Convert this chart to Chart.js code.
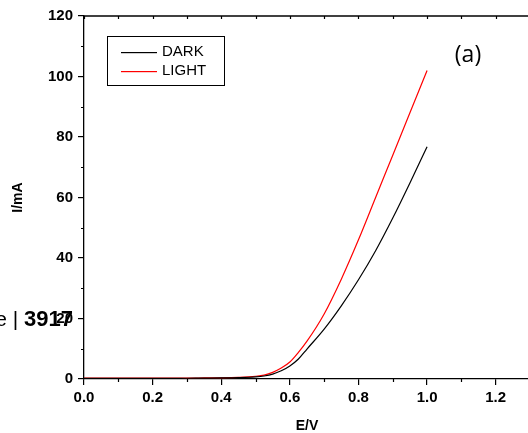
<!DOCTYPE html>
<html>
<head>
<meta charset="utf-8">
<script src="https://cdn.jsdelivr.net/npm/chart.js@4.4.1/dist/chart.umd.min.js"></script>
<style>
  html, body { margin: 0; padding: 0; background: #fff; overflow: hidden; }
  #wrap { width: 540px; height: 433px; }
</style>
</head>
<body>
<div id="wrap"><canvas id="chart" width="540" height="433"></canvas></div>
<script>
// potential (V)
const potential = [0, 0.05, 0.1, 0.15, 0.2, 0.25, 0.3, 0.35, 0.4, 0.45, 0.5, 0.525, 0.55, 0.575,
  0.6, 0.625, 0.65, 0.7, 0.75, 0.8, 0.85, 0.9, 0.95, 1.0];
// current (mA)
const darkCurrent = [0.2, 0.2, 0.2, 0.2, 0.2, 0.2, 0.25, 0.3, 0.35, 0.45, 0.7, 1.0, 1.6, 2.7,
  4.3, 6.6, 9.9, 16.5, 24.2, 32.8, 42.4, 53.2, 64.8, 76.8];
const lightCurrent = [0.3, 0.3, 0.3, 0.3, 0.3, 0.3, 0.3, 0.35, 0.4, 0.55, 0.9, 1.3, 2.2, 3.6,
  5.6, 8.8, 12.5, 21.5, 33, 46, 60, 74, 88, 102];

const xTicks = [0, 0.2, 0.4, 0.6, 0.8, 1.0, 1.2];
const xMinor = [0.1, 0.3, 0.5, 0.7, 0.9, 1.1];
const yTicks = [0, 20, 40, 60, 80, 100, 120];
const yMinor = [10, 30, 50, 70, 90, 110];

const seriesNames = ["DARK", "LIGHT"];
const seriesColors = ["#000000", "#ff0000"];

const toPoints = (ys) => potential.map((x, i) => ({ x: x, y: ys[i] }));

const tickFont = { family: "'Liberation Sans', Arial, sans-serif", size: 15, weight: "bold" };

// minor ticks, top border, legend box and the extra texts
const decorations = {
  id: "decorations",
  afterDraw(chart) {
    const ctx = chart.ctx;
    const xs = chart.scales.x;
    const ys = chart.scales.y;
    const area = chart.chartArea;
    ctx.save();
    ctx.strokeStyle = "#000";
    ctx.lineWidth = 1.3;

    // top border
    ctx.beginPath();
    ctx.moveTo(area.left, area.top);
    ctx.lineTo(chart.width, area.top);
    ctx.stroke();

    ctx.lineWidth = 1.2;
    ctx.beginPath();
    xMinor.forEach((v) => {
      const px = Math.round(xs.getPixelForValue(v)) + 0.5;
      ctx.moveTo(px, area.bottom);
      ctx.lineTo(px, area.bottom + 3);
    });
    xTicks.concat(xMinor).forEach((v) => {
      const px = Math.round(xs.getPixelForValue(v)) + 0.5;
      ctx.moveTo(px, area.top);
      ctx.lineTo(px, area.top + 3);
    });
    yMinor.forEach((v) => {
      const py = Math.round(ys.getPixelForValue(v)) + 0.5;
      ctx.moveTo(area.left, py);
      ctx.lineTo(area.left - 3, py);
    });
    ctx.stroke();

    // legend
    ctx.lineWidth = 1;
    ctx.strokeRect(107.5, 36.5, 117, 49);
    ctx.font = "15px 'Liberation Sans', Arial, sans-serif";
    ctx.textBaseline = "middle";
    ctx.textAlign = "left";
    seriesNames.forEach((name, i) => {
      const y = 52 + i * 19;
      ctx.fillStyle = seriesColors[i];
      ctx.fillRect(121, y, 36, 1.2);
      ctx.fillStyle = "#000";
      ctx.fillText(name, 162, y);
    });

    // panel label
    ctx.font = "23px 'Open Sans', sans-serif";
    ctx.textAlign = "center";
    ctx.fillText("(a)", 468, 55);

    // page number bleeding in from the source document
    ctx.textBaseline = "alphabetic";
    ctx.textAlign = "right";
    ctx.font = "bold 22px 'Liberation Sans', Arial, sans-serif";
    ctx.fillText("3917", 73, 326);
    const w = ctx.measureText("3917").width;
    ctx.font = "21px 'Liberation Sans', Arial, sans-serif";
    ctx.fillText("Page | ", 73 - w, 326);
    ctx.restore();
  },
};

new Chart(document.getElementById("chart"), {
  type: "line",
  data: {
    datasets: [
      { label: seriesNames[0], data: toPoints(darkCurrent), borderColor: seriesColors[0] },
      { label: seriesNames[1], data: toPoints(lightCurrent), borderColor: seriesColors[1] },
    ],
  },
  options: {
    responsive: false,
    animation: false,
    layout: { padding: { left: 0, right: 10, top: 16, bottom: 0 } },
    elements: {
      point: { radius: 0 },
      line: { borderWidth: 1.2, cubicInterpolationMode: "monotone", fill: false },
    },
    plugins: { legend: { display: false }, tooltip: { enabled: false } },
    scales: {
      x: {
        type: "linear",
        min: 0,
        max: 1.3,
        afterBuildTicks: (s) => { s.ticks = xTicks.map((v) => ({ value: v })); },
        afterFit: (s) => { s.height = 54; },
        border: { color: "#000", width: 1.3 },
        grid: { drawOnChartArea: false, tickLength: 6, color: "#000", lineWidth: 1.2 },
        ticks: { color: "#000", font: tickFont, padding: 4, maxRotation: 0,
          callback: (v) => v.toFixed(1) },
        title: { display: true, text: "E/V", color: "#000",
          font: { family: "'Liberation Sans', Arial, sans-serif", size: 14, weight: "bold", lineHeight: 1 },
          padding: { top: 0, bottom: 0 } },
      },
      y: {
        min: 0,
        max: 120,
        afterBuildTicks: (s) => { s.ticks = yTicks.map((v) => ({ value: v })); },
        afterFit: (s) => { s.width = 84; },
        border: { color: "#000", width: 1.3 },
        grid: { drawOnChartArea: false, tickLength: 6, color: "#000", lineWidth: 1.2 },
        ticks: { color: "#000", font: tickFont, padding: 5 },
        title: { display: true, text: "I/mA", color: "#000",
          font: { family: "'Liberation Sans', Arial, sans-serif", size: 14, weight: "bold", lineHeight: 1 },
          padding: { top: 11, bottom: 0 } },
      },
    },
  },
  plugins: [decorations],
});
</script>
</body>
</html>
